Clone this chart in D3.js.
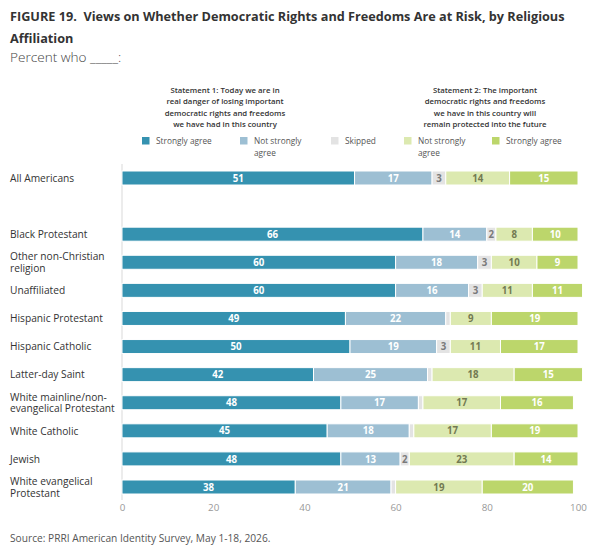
<!DOCTYPE html>
<html>
<head>
<meta charset="utf-8">
<script src="https://cdn.jsdelivr.net/npm/d3@7"></script>
<style>
  html, body { margin: 0; padding: 0; background: #fff; }
  svg { display: block; font-family: "Open Sans", "Noto Sans", sans-serif; }
</style>
</head>
<body>
<svg id="chart" width="600" height="554"></svg>
<script>
// ---- data ----
const categories = [
  "All Americans", "Black Protestant", "Other non-Christian religion", "Unaffiliated",
  "Hispanic Protestant", "Hispanic Catholic", "Latter-day Saint",
  "White mainline/non-evangelical Protestant", "White Catholic", "Jewish",
  "White evangelical Protestant"
];
const categoryLines = [
  ["All Americans"], ["Black Protestant"], ["Other non-Christian", "religion"], ["Unaffiliated"],
  ["Hispanic Protestant"], ["Hispanic Catholic"], ["Latter-day Saint"],
  ["White mainline/non-", "evangelical Protestant"], ["White Catholic"], ["Jewish"],
  ["White evangelical", "Protestant"]
];
const s1StronglyAgree = [51, 66, 60, 60, 49, 50, 42, 48, 45, 48, 38];
const s1NotStrongly   = [17, 14, 18, 16, 22, 19, 25, 17, 18, 13, 21];
const skipped         = [3, 2, 3, 3, 1, 3, 1, 1, 1, 2, 1];
const s2NotStrongly   = [14, 8, 10, 11, 9, 11, 18, 17, 17, 23, 19];
const s2StronglyAgree = [15, 10, 9, 11, 19, 17, 15, 16, 19, 14, 20];
const seriesNames = ["Strongly agree", "Not strongly agree", "Skipped", "Not strongly agree", "Strongly agree"];
const xTicks = [0, 20, 40, 60, 80, 100];

// ---- styling ----
const colors = ["#3592b0", "#9dbfd3", "#e3e3e3", "#dce9b0", "#bcd66b"];
const labelColors = ["#ffffff", "#ffffff", "#7a7a7a", "#737a52", "#ffffff"];

const svg = d3.select("#chart");
const seriesValues = [s1StronglyAgree, s1NotStrongly, skipped, s2NotStrongly, s2StronglyAgree];

// rows with a spacer after "All Americans"
const rowKeys = [categories[0], "__gap__", ...categories.slice(1)];
const y = d3.scalePoint().domain(rowKeys).range([178, 487]);
const x = d3.scaleLinear().domain([0, 100]).range([122, 578]);
const barH = 14;

// title
svg.append("text").attr("x", 10).attr("y", 21)
  .attr("font-size", 12.7).attr("font-weight", 700).attr("fill", "#333")
  .text("FIGURE 19.\u00a0 Views on Whether Democratic Rights and Freedoms Are at Risk, by Religious");
svg.append("text").attr("x", 10).attr("y", 42.5)
  .attr("font-size", 12.7).attr("font-weight", 700).attr("fill", "#333")
  .text("Affiliation");
svg.append("text").attr("x", 10).attr("y", 62)
  .attr("font-size", 13.6).attr("font-weight", 300).attr("fill", "#444")
  .text("Percent who _____:");

// statement headers
const st1 = ["Statement 1: Today we are in", "real danger of losing important", "democratic rights and freedoms", "we have had in this country"];
const st2 = ["Statement 2: The important", "democratic rights and freedoms", "we have in this country will", "remain protected into the future"];
[[st1, 225], [st2, 485]].forEach(([lines, cx]) => {
  const t = svg.append("text").attr("text-anchor", "middle")
    .attr("font-size", 7.8).attr("font-weight", 600).attr("fill", "#333");
  lines.forEach((l, i) => t.append("tspan").attr("x", cx).attr("y", 93 + i * 11.3).text(l));
});

// legend
const legendX = [142, 240, 331, 404, 492];
seriesNames.forEach((name, i) => {
  const g = svg.append("g").attr("transform", `translate(${legendX[i]},0)`);
  g.append("rect").attr("x", 0).attr("y", 137).attr("width", 7.5).attr("height", 7.5).attr("fill", colors[i]);
  const t = g.append("text").attr("font-size", 8.3).attr("fill", "#555");
  const parts = name === "Not strongly agree" ? ["Not strongly", "agree"] : [name];
  parts.forEach((p, j) => t.append("tspan").attr("x", 14).attr("y", 144 + j * 11.5).text(p));
});

// axis baseline
svg.append("line").attr("x1", x(0)).attr("x2", x(0)).attr("y1", 164).attr("y2", 500)
  .attr("stroke", "#d9d9d9").attr("stroke-width", 1);

// bars
categories.forEach((cat, ci) => {
  let cum = 0;
  const cy = y(cat);
  seriesValues.forEach((vals, si) => {
    const v = vals[ci];
    const x0 = x(cum), x1 = x(cum + v);
    svg.append("rect")
      .attr("x", x0).attr("y", cy - barH / 2)
      .attr("width", Math.max(0, x1 - x0)).attr("height", barH)
      .attr("fill", colors[si]).attr("stroke", "#fff").attr("stroke-width", 1);
    if (v >= 2) {
      svg.append("text")
        .attr("x", (x0 + x1) / 2).attr("y", cy + 3.6)
        .attr("text-anchor", "middle").attr("font-size", 9.7).attr("font-weight", 700)
        .attr("fill", labelColors[si]).text(v);
    }
    cum += v;
  });
  // category label
  const lines = categoryLines[ci];
  const t = svg.append("text").attr("font-size", 10.2).attr("fill", "#333");
  lines.forEach((l, j) => t.append("tspan").attr("x", 10)
    .attr("y", cy + 3.7 + (j - (lines.length - 1) / 2) * 11.6).text(l));
});

// x axis tick labels
const axis = d3.axisBottom(x).tickValues(xTicks).tickSize(0).tickPadding(0);
const ag = svg.append("g").attr("transform", "translate(0,504)").call(axis);
ag.select(".domain").remove();
ag.selectAll("text").attr("font-size", 9.8).attr("fill", "#999")
  .attr("font-family", "\"Open Sans\", sans-serif").attr("dy", "0.71em");

// source
svg.append("text").attr("x", 10).attr("y", 542).attr("font-size", 10.2).attr("fill", "#555")
  .text("Source: PRRI American Identity Survey, May 1-18, 2026.");
</script>
</body>
</html>
